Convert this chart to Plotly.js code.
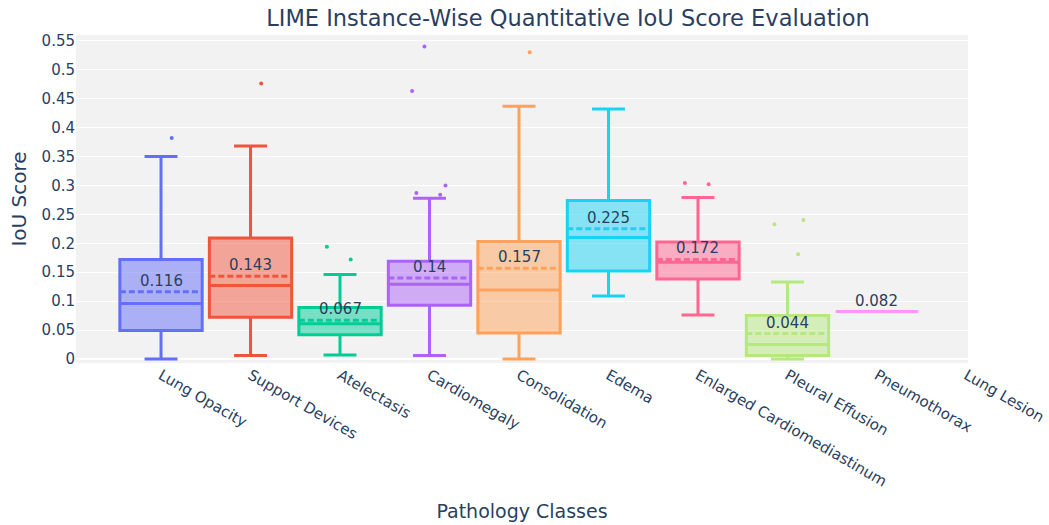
<!DOCTYPE html>
<html><head><meta charset="utf-8">
<script src="https://cdn.plot.ly/plotly-3.0.1.min.js"></script>
<style>html,body{margin:0;padding:0;background:#fff}#chart{width:1049px;height:525px}</style>
</head><body><div id="chart"></div>
<script>
const categories = ['Lung Opacity','Support Devices','Atelectasis','Cardiomegaly','Consolidation','Edema','Enlarged Cardiomediastinum','Pleural Effusion','Pneumothorax','Lung Lesion'];
const q1 = [0.049, 0.072, 0.042, 0.093, 0.045, 0.152, 0.138, 0.006, 0.082, null];
const median = [0.096, 0.127, 0.061, 0.129, 0.119, 0.210, 0.167, 0.025, 0.082, null];
const q3 = [0.172, 0.209, 0.089, 0.169, 0.203, 0.274, 0.202, 0.075, 0.082, null];
const lowerFence = [0.0, 0.006, 0.007, 0.006, 0.0, 0.109, 0.076, 0.0, 0.082, null];
const upperFence = [0.350, 0.368, 0.146, 0.278, 0.437, 0.432, 0.279, 0.133, 0.082, null];
const means = [0.116, 0.143, 0.067, 0.14, 0.157, 0.225, 0.172, 0.044, 0.082, null];
const outliers = [[0.382],[0.476],[0.194,0.172],[0.540,0.463,0.287,0.284,0.300],[0.530],[],[0.304,0.302],[0.233,0.240,0.181],[],[]];
const colors = ['#636efa','#EF553B','#00cc96','#ab63fa','#FFA15A','#19d3f3','#FF6692','#B6E880','#FF97FF','#FECB52'];

const traces = [];
const annotations = [];
categories.forEach((c, i) => {
  if (median[i] === null) {
    traces.push({type:'scatter', mode:'markers', x:[c], y:[null], showlegend:false, hoverinfo:'skip', marker:{color:colors[i]}});
    return;
  }
  traces.push({
    type:'box', name:c, x:[c],
    q1:[q1[i]], median:[median[i]], q3:[q3[i]],
    lowerfence:[lowerFence[i]], upperfence:[upperFence[i]], mean:[means[i]],
    boxmean:true, width:0.92, whiskerwidth:0.4,
    marker:{color:colors[i]}, line:{color:colors[i], width:3},
    showlegend:false
  });
  if (outliers[i].length) {
    traces.push({
      type:'box', name:c, x:outliers[i].map(() => c), y:outliers[i],
      boxpoints:'all', jitter:0.5, pointpos:0, width:0.92,
      fillcolor:'rgba(0,0,0,0)', line:{width:0, color:'rgba(0,0,0,0)'},
      marker:{color:colors[i], size:4}, showlegend:false, hoverinfo:'y'
    });
  }
  annotations.push({x:c, y:means[i], xref:'x', yref:'y', text:String(means[i]),
    showarrow:false, yanchor:'bottom', font:{size:15, color:'#2a3f5f'}});
});

const layout = {
  width:1049, height:525,
  margin:{l:76, r:81, t:35, b:162, pad:0},
  paper_bgcolor:'#ffffff', plot_bgcolor:'#f2f2f2',
  font:{family:'"DejaVu Sans", Verdana, sans-serif', color:'#2a3f5f', size:15},
  title:{text:'LIME Instance-Wise Quantitative IoU Score Evaluation', x:0.5415, xanchor:'center',
         xref:'container', y:1-18/525, yanchor:'middle', yref:'container', font:{size:22.5, color:'#2a3f5f'}},
  xaxis:{type:'category', categoryorder:'array', categoryarray:categories, range:[-0.95, 9.017],
         tickangle:30, showgrid:false, ticks:'', automargin:false,
         title:{text:'Pathology Classes', font:{size:19}, standoff:15}},
  yaxis:{range:[-0.007, 0.56], dtick:0.05, tick0:0, gridcolor:'#ffffff', gridwidth:1,
         zeroline:true, zerolinecolor:'#ffffff', zerolinewidth:2, ticks:'', automargin:false,
         title:{text:'IoU Score', font:{size:20}}},
  boxmode:'overlay',
  showlegend:false,
  annotations:annotations
};
Plotly.newPlot('chart', traces, layout, {displayModeBar:false, responsive:false});
</script></body></html>
